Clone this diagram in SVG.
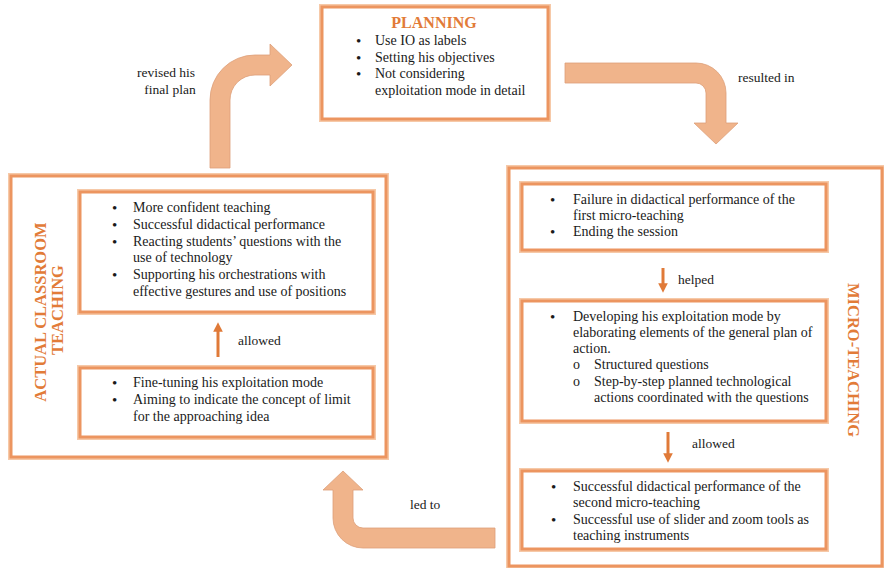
<svg xmlns="http://www.w3.org/2000/svg" width="884" height="568" viewBox="0 0 884 568">
  <style>
    .box { fill: #ffffff; stroke: #EC9560; stroke-width: 3; }
    .glow { fill: none; stroke: #F6C9A8; stroke-width: 6; }
    .big { fill: #F0B48B; stroke: #DDA07A; stroke-width: 0.8; }
    .t { font-family: "Liberation Serif", "Times New Roman", serif; font-size: 14px; fill: #1a1a1a; }
    .b { font-family: "Liberation Serif", "Times New Roman", serif; font-size: 15px; fill: #1a1a1a; }
    .lbl { font-family: "Liberation Serif", "Times New Roman", serif; font-size: 13.5px; fill: #1a1a1a; }
    .title { font-family: "Liberation Serif", "Times New Roman", serif; font-weight: bold; fill: #E27B38; }
    .small { stroke: #E07A38; stroke-width: 3; fill: none; }
  </style>
  <defs>
    <marker id="head" viewBox="0 0 10 10" refX="5" refY="5" markerWidth="3.2" markerHeight="3.2" orient="auto">
      <path d="M0,0 L10,5 L0,10 Z" fill="#E07A38"/>
    </marker>
  </defs>
  <rect width="884" height="568" fill="#ffffff"/>

  <!-- Planning -->
  <g id="planning">
    <rect class="glow" x="322" y="7" width="226" height="112"/>
    <rect class="box" x="322" y="7" width="226" height="112"/>
    <text class="title" x="434" y="28" font-size="16" text-anchor="middle">PLANNING</text>
    <text class="b" x="356" y="45.5">•</text><text class="t" x="375" y="45">Use IO as labels</text>
    <text class="b" x="356" y="62.5">•</text><text class="t" x="375" y="62">Setting his objectives</text>
    <text class="b" x="356" y="78.5">•</text><text class="t" x="375" y="78">Not considering</text>
    <text class="t" x="375" y="95">exploitation mode in detail</text>
  </g>

  <!-- Micro-teaching -->
  <g id="micro-teaching">
    <rect class="glow" x="509" y="168" width="373" height="398"/>
    <rect class="box" x="509" y="168" width="373" height="398"/>
    <text class="title" font-size="16.5" text-anchor="middle" transform="translate(848,360) rotate(90)">MICRO-TEACHING</text>
  </g>
  <g id="micro-failure">
    <rect class="glow" x="522" y="184" width="304" height="66"/>
    <rect class="box" x="522" y="184" width="304" height="66"/>
    <text class="b" x="550" y="204.5">•</text><text class="t" x="573" y="204">Failure in didactical performance of the</text>
    <text class="t" x="573" y="220">first micro-teaching</text>
    <text class="b" x="550" y="236.5">•</text><text class="t" x="573" y="236">Ending the session</text>
  </g>
  <g id="micro-developing">
    <rect class="glow" x="522" y="301" width="304" height="120"/>
    <rect class="box" x="522" y="301" width="304" height="120"/>
    <text class="b" x="550" y="321.5">•</text><text class="t" x="573" y="321">Developing his exploitation mode by</text>
    <text class="t" x="573" y="337">elaborating elements of the general plan of</text>
    <text class="t" x="573" y="353">action.</text>
    <text class="t" x="573" y="369">o</text><text class="t" x="594" y="369">Structured questions</text>
    <text class="t" x="573" y="386">o</text><text class="t" x="594" y="386">Step-by-step planned technological</text>
    <text class="t" x="594" y="402">actions coordinated with the questions</text>
  </g>
  <g id="micro-success">
    <rect class="glow" x="522" y="471" width="304" height="78"/>
    <rect class="box" x="522" y="471" width="304" height="78"/>
    <text class="b" x="551" y="491.5">•</text><text class="t" x="573" y="491">Successful didactical performance of the</text>
    <text class="t" x="573" y="507">second micro-teaching</text>
    <text class="b" x="551" y="524.5">•</text><text class="t" x="573" y="524">Successful use of slider and zoom tools as</text>
    <text class="t" x="573" y="540">teaching instruments</text>
  </g>

  <!-- Actual classroom teaching -->
  <g id="classroom">
    <rect class="glow" x="11" y="176" width="375" height="281"/>
    <rect class="box" x="11" y="176" width="375" height="281"/>
    <text class="title" font-size="16.5" text-anchor="middle" transform="translate(46,310) rotate(-90)">
      <tspan x="0" y="0">ACTUAL CLASSROOM</tspan>
      <tspan x="0" y="17">TEACHING</tspan>
    </text>
  </g>
  <g id="classroom-outcomes">
    <rect class="glow" x="80" y="192" width="293" height="120"/>
    <rect class="box" x="80" y="192" width="293" height="120"/>
    <text class="b" x="112" y="212.5">•</text><text class="t" x="133" y="212">More confident teaching</text>
    <text class="b" x="112" y="229.5">•</text><text class="t" x="133" y="229">Successful didactical performance</text>
    <text class="b" x="112" y="246.5">•</text><text class="t" x="133" y="246">Reacting students’ questions with the</text>
    <text class="t" x="133" y="262">use of technology</text>
    <text class="b" x="112" y="279.5">•</text><text class="t" x="133" y="279">Supporting his orchestrations with</text>
    <text class="t" x="133" y="296">effective gestures and use of positions</text>
  </g>
  <g id="classroom-tuning">
    <rect class="glow" x="80" y="368" width="293" height="69"/>
    <rect class="box" x="80" y="368" width="293" height="69"/>
    <text class="b" x="112" y="387.5">•</text><text class="t" x="133" y="387">Fine-tuning his exploitation mode</text>
    <text class="b" x="112" y="404.5">•</text><text class="t" x="133" y="404">Aiming to indicate the concept of limit</text>
    <text class="t" x="133" y="421">for the approaching idea</text>
  </g>

  <!-- Connectors -->
  <g id="connectors">
    <path class="big" d="M565,63 H696 A30,30 0 0 1 726,93 V123 H738 L716,144 L694,123 H706 V93 A10,10 0 0 0 696,83 H565 Z"/>
    <text class="lbl" x="738" y="82">resulted in</text>

    <path class="big" d="M210,168 V100 A45,45 0 0 1 255,55 H270 V44 L292,65 L270,86 V75 H255 A25,25 0 0 0 230,100 V168 Z"/>
    <text class="lbl" x="166" y="77" text-anchor="middle">revised his</text>
    <text class="lbl" x="170" y="94" text-anchor="middle">final plan</text>

    <path class="big" d="M495,528 H363 A10,10 0 0 1 353,518 V490 H363 L343,471 L323,490 H333 V518 A30,30 0 0 0 363,548 H495 Z"/>
    <text class="lbl" x="410" y="509">led to</text>

    <line class="small" x1="663" y1="268" x2="663" y2="288" marker-end="url(#head)"/>
    <text class="lbl" x="678" y="284">helped</text>

    <line class="small" x1="668" y1="432" x2="668" y2="458" marker-end="url(#head)"/>
    <text class="lbl" x="692" y="448">allowed</text>

    <line class="small" x1="218" y1="357" x2="218" y2="327" marker-end="url(#head)"/>
    <text class="lbl" x="238" y="345">allowed</text>
  </g>
</svg>
